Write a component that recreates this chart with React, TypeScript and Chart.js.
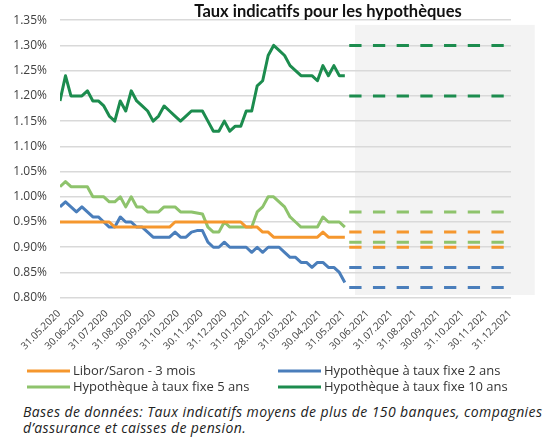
import React, { useEffect, useRef } from "react";
import { Chart, registerables } from "chart.js";

Chart.register(...registerables);

// Month-end labels of the x axis
const monthLabels = [
  "31.05.2020", "30.06.2020", "31.07.2020", "31.08.2020", "30.09.2020",
  "31.10.2020", "30.11.2020", "31.12.2020", "31.01.2021", "28.02.2021",
  "31.03.2021", "30.04.2021", "31.05.2021", "30.06.2021", "31.07.2021",
  "31.08.2021", "30.09.2021", "31.10.2021", "30.11.2021", "31.12.2021",
];

const yTickValues = [0.8, 0.85, 0.9, 0.95, 1.0, 1.05, 1.1, 1.15, 1.2, 1.25, 1.3, 1.35];

// Weekly observations 31.05.2020 – 31.05.2021 (53 weeks)
const liborSaron3m = [
  0.95, 0.95, 0.95, 0.95, 0.95, 0.95, 0.95, 0.95, 0.95, 0.95,
  0.94, 0.94, 0.94, 0.94, 0.94, 0.94, 0.94, 0.94, 0.94, 0.94,
  0.94, 0.95, 0.95, 0.95, 0.95, 0.95, 0.95, 0.95, 0.95, 0.95,
  0.95, 0.95, 0.95, 0.95, 0.94, 0.94, 0.94, 0.93, 0.93, 0.92,
  0.92, 0.92, 0.92, 0.92, 0.92, 0.92, 0.92, 0.92, 0.93, 0.92,
  0.92, 0.92, 0.92,
];
const fixed2y = [
  0.98, 0.99, 0.98, 0.97, 0.98, 0.97, 0.96, 0.96, 0.95, 0.94,
  0.94, 0.96, 0.95, 0.95, 0.94, 0.94, 0.93, 0.92, 0.92, 0.92,
  0.92, 0.93, 0.92, 0.92, 0.93, 0.933, 0.933, 0.91, 0.9, 0.9,
  0.91, 0.9, 0.9, 0.9, 0.9, 0.89, 0.9, 0.89, 0.9, 0.9,
  0.9, 0.89, 0.88, 0.88, 0.87, 0.87, 0.86, 0.87, 0.87, 0.86,
  0.86, 0.85, 0.83,
];
const fixed5y = [
  1.02, 1.03, 1.02, 1.02, 1.02, 1.02, 1.0, 1.0, 1.0, 0.99,
  0.99, 1.0, 0.98, 1.0, 0.98, 0.98, 0.97, 0.97, 0.97, 0.98,
  0.98, 0.98, 0.97, 0.97, 0.97, 0.968, 0.966, 0.94, 0.93, 0.93,
  0.95, 0.94, 0.94, 0.94, 0.94, 0.94, 0.97, 0.98, 1.0, 1.0,
  0.99, 0.98, 0.96, 0.95, 0.94, 0.94, 0.94, 0.94, 0.96, 0.95,
  0.95, 0.95, 0.94,
];
const fixed10y = [
  1.19, 1.24, 1.2, 1.2, 1.2, 1.21, 1.19, 1.19, 1.18, 1.16,
  1.15, 1.19, 1.17, 1.21, 1.19, 1.18, 1.17, 1.15, 1.16, 1.18,
  1.17, 1.16, 1.15, 1.16, 1.17, 1.17, 1.17, 1.15, 1.13, 1.13,
  1.15, 1.13, 1.14, 1.14, 1.17, 1.17, 1.22, 1.23, 1.28, 1.3,
  1.29, 1.28, 1.26, 1.25, 1.24, 1.24, 1.24, 1.23, 1.26, 1.24,
  1.26, 1.24, 1.24,
];

// Forecast range (low, high) until 31.12.2021
const forecastLibor = [0.9, 0.93];
const forecast2y = [0.82, 0.86];
const forecast5y = [0.91, 0.97];
const forecast10y = [1.2, 1.3];

const seriesNames = [
  "Libor/Saron - 3 mois",
  "Hypothèque à taux fixe 2 ans",
  "Hypothèque à taux fixe 5 ans",
  "Hypothèque à taux fixe 10 ans",
];

const COLORS = {
  libor: "#F5972E",
  y2: "#4A7EBB",
  y5: "#8EC36C",
  y10: "#1C8C4E",
};

const FONT = "'Open Sans', 'Noto Sans', sans-serif";

export default function App() {
  const ref = useRef<HTMLCanvasElement>(null);

  useEffect(() => {
    if (!ref.current) return;
    const lastHistMonth = 12;
    const lastMonth = monthLabels.length - 1;

    const solid = (label: string, data: number[], color: string) => ({
      label,
      data: data.map((v, i) => ({ x: (i * lastHistMonth) / (data.length - 1), y: v })),
      borderColor: color,
      backgroundColor: color,
      borderWidth: 3,
      borderJoinStyle: "round" as const,
      pointRadius: 0,
      tension: 0,
      fill: false,
    });
    const dashed = (value: number, color: string) => ({
      label: "",
      forecast: true,
      data: [
        { x: lastHistMonth, y: value },
        { x: lastMonth, y: value },
      ],
      borderColor: color,
      backgroundColor: color,
      borderWidth: 3,
      borderDash: [12.3, 11.4],
      borderDashOffset: 19.3,
      pointRadius: 0,
      fill: false,
    });

    const bgPlugin = {
      id: "forecastBg",
      beforeDraw(chart: any) {
        const { ctx, scales } = chart;
        const x = scales.x, y = scales.y;
        const l = x.getPixelForValue(12.43);
        const r = x.getPixelForValue(20.0);
        const t = y.getPixelForValue(1.3407);
        const b = y.getPixelForValue(0.8053);
        ctx.save();
        ctx.fillStyle = "#f3f3f3";
        ctx.fillRect(l, t, r - l, b - t);
        ctx.restore();
      },
    };

    const titlePlugin = {
      id: "customTitle",
      afterDraw(chart: any) {
        const { ctx } = chart;
        ctx.save();
        ctx.font = `bold 16.5px Lato, ${FONT}`;
        ctx.fillStyle = "#111";
        ctx.textAlign = "center";
        ctx.textBaseline = "alphabetic";
        ctx.fillText("Taux indicatifs pour les hypothèques", 328, 17);
        ctx.restore();
      },
    };

    const legendPlugin = {
      id: "customLegend",
      afterDraw(chart: any) {
        const { ctx } = chart;
        const items = chart.data.datasets.filter((d: any) => !d.forecast);
        const cols = [27, 278];
        const rows = [371, 387];
        ctx.save();
        ctx.font = `13px ${FONT}`;
        ctx.textBaseline = "middle";
        ctx.textAlign = "left";
        items.forEach((d: any, i: number) => {
          const cx = cols[i % 2];
          const cy = rows[Math.floor(i / 2)];
          ctx.strokeStyle = d.borderColor;
          ctx.lineWidth = 3;
          ctx.beginPath();
          ctx.moveTo(cx, cy);
          ctx.lineTo(cx + 43, cy);
          ctx.stroke();
          ctx.fillStyle = "#333";
          ctx.fillText(d.label, cx + 46, cy);
        });
        ctx.restore();
      },
    };

    const chart = new Chart(ref.current, {
      type: "line",
      data: {
        datasets: [
          solid(seriesNames[0], liborSaron3m, COLORS.libor),
          solid(seriesNames[1], fixed2y, COLORS.y2),
          solid(seriesNames[2], fixed5y, COLORS.y5),
          solid(seriesNames[3], fixed10y, COLORS.y10),
          dashed(forecastLibor[0], COLORS.libor),
          dashed(forecastLibor[1], COLORS.libor),
          dashed(forecast2y[0], COLORS.y2),
          dashed(forecast2y[1], COLORS.y2),
          dashed(forecast5y[0], COLORS.y5),
          dashed(forecast5y[1], COLORS.y5),
          dashed(forecast10y[0], COLORS.y10),
          dashed(forecast10y[1], COLORS.y10),
        ] as any,
      },
      options: {
        animation: false,
        responsive: true,
        maintainAspectRatio: false,
        layout: { padding: { top: 19.3, right: 38, bottom: 0, left: 0 } },
        plugins: {
          legend: { display: false },
          title: { display: false },
          tooltip: { enabled: false },
        },
        scales: {
          x: {
            type: "linear",
            min: 0,
            max: lastMonth,
            grid: { display: false },
            border: { display: false },
            afterFit: (s: any) => {
              s.height = 102.3;
            },
            afterBuildTicks: (s: any) => {
              s.ticks = monthLabels.map((_, i) => ({ value: i }));
            },
            ticks: {
              autoSkip: false,
              minRotation: 45,
              maxRotation: 45,
              padding: 2,
              labelOffset: -1,
              color: "#404040",
              font: { family: FONT, size: 10 },
              callback: (v: any) => monthLabels[Math.round(Number(v))] ?? "",
            },
          },
          y: {
            min: 0.8,
            max: 1.35,
            afterFit: (s: any) => {
              s.width = 60;
            },
            afterBuildTicks: (s: any) => {
              s.ticks = yTickValues.map((v) => ({ value: v }));
            },
            grid: { color: "#d9d9d9", lineWidth: 1.5, drawTicks: false },
            border: { display: false },
            ticks: {
              padding: 13,
              color: "#404040",
              font: { family: FONT, size: 12 },
              callback: (v: any) => Number(v).toFixed(2) + "%",
            },
          },
        },
      } as any,
      plugins: [bgPlugin, titlePlugin, legendPlugin],
    });
    return () => chart.destroy();
  }, []);

  return (
    <div
      style={{
        position: "absolute",
        left: 0,
        top: 0,
        width: 549,
        height: 442,
        background: "#fff",
        fontFamily: FONT,
      }}
    >
      <div style={{ position: "relative", width: 549, height: 400 }}>
        <canvas ref={ref} />
      </div>
      <div
        style={{
          position: "absolute",
          left: 23,
          top: 404,
          fontStyle: "italic",
          fontSize: 14,
          lineHeight: "15.5px",
          letterSpacing: "0.4px",
          color: "#222",
          whiteSpace: "nowrap",
        }}
      >
        <div>Bases de données: Taux indicatifs moyens de plus de 150 banques, compagnies</div>
        <div>d’assurance et caisses de pension.</div>
      </div>
    </div>
  );
}
